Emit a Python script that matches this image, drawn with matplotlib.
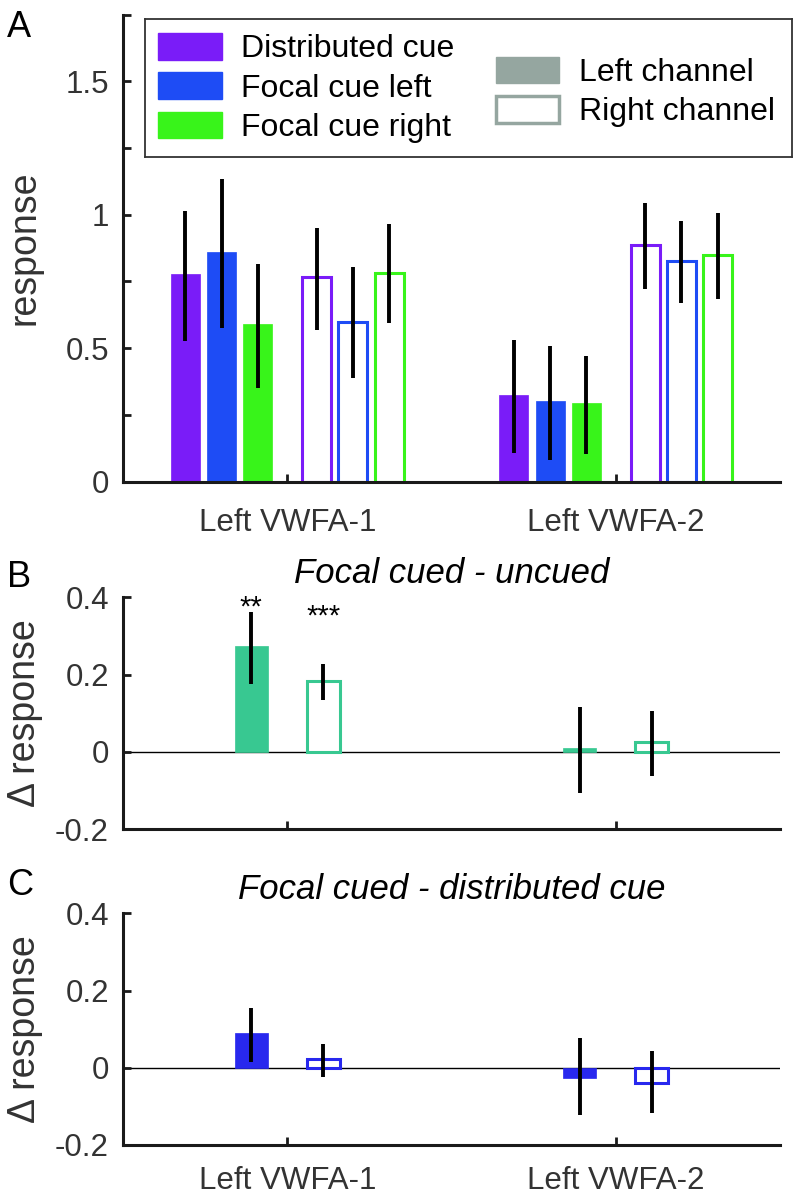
import numpy as np
import matplotlib
matplotlib.use("Agg")
import matplotlib.pyplot as plt
from matplotlib.patches import Patch

plt.rcParams['font.family'] = ['Liberation Sans', 'DejaVu Sans']

# Data
regions = ["Left VWFA-1", "Left VWFA-2"]
cue_labels = ["Distributed cue", "Focal cue left", "Focal cue right"]
cue_colors = ["#7A1CF8", "#1E4CF5", "#38F41A"]
channel_labels = ["Left channel", "Right channel"]

# panel A: rows = cue condition, cols = region
left_mean = [[0.777, 0.325], [0.860, 0.302], [0.590, 0.294]]
left_lo = [[0.527, 0.106], [0.574, 0.083], [0.352, 0.104]]
left_hi = [[1.013, 0.530], [1.134, 0.510], [0.816, 0.472]]
right_mean = [[0.766, 0.886], [0.600, 0.827], [0.781, 0.848]]
right_lo = [[0.570, 0.723], [0.390, 0.668], [0.593, 0.684]]
right_hi = [[0.952, 1.043], [0.806, 0.976], [0.965, 1.008]]

# panel B: focal cued - uncued
b_left_mean = [0.273, 0.009]
b_left_lo = [0.176, -0.105]
b_left_hi = [0.361, 0.117]
b_right_mean = [0.184, 0.025]
b_right_lo = [0.134, -0.062]
b_right_hi = [0.228, 0.106]
b_stars = ["**", "***"]

# panel C: focal cued - distributed cue
c_left_mean = [0.089, -0.026]
c_left_lo = [0.016, -0.123]
c_left_hi = [0.154, 0.078]
c_right_mean = [0.022, -0.039]
c_right_lo = [-0.024, -0.117]
c_right_hi = [0.062, 0.043]

W, H = 796, 1196
fig = plt.figure(figsize=(W / 100, H / 100), dpi=100)
tick_color = "#333333"
label_size = 22.5


def px_axes(x0, y0, x1, y1):
    return fig.add_axes([x0 / W, 1 - y1 / H, (x1 - x0) / W, (y1 - y0) / H])


def style_axes(ax):
    for s in ["top", "right"]:
        ax.spines[s].set_visible(False)
    for s in ["left", "bottom"]:
        ax.spines[s].set_linewidth(2.2)
        ax.spines[s].set_color("#1a1a1a")
    ax.tick_params(direction="in", length=6, width=2, colors="#1a1a1a",
                   labelcolor=tick_color, labelsize=label_size, pad=10)
    ax.set_xlim(0.5, 2.5)
    ax.set_xticks([1, 2])


def errbars(ax, x, mean, lo, hi):
    mean = np.asarray(mean)
    yerr = [mean - np.asarray(lo), np.asarray(hi) - mean]
    ax.errorbar(x, mean, yerr=yerr, fmt="none", ecolor="k",
                elinewidth=2.8, capsize=0, zorder=4)


x = np.arange(1, len(regions) + 1)

# ---------------- Panel A ----------------
axA = px_axes(123, 14.5, 780, 481.7)
style_axes(axA)
left_off = [-0.31, -0.2, -0.09]
right_off = [0.09, 0.2, 0.31]
wA = 0.088
for i, c in enumerate(cue_colors):
    axA.bar(x + left_off[i], left_mean[i], width=wA, color=c, edgecolor=c,
            linewidth=0.5, zorder=2)
    errbars(axA, x + left_off[i], left_mean[i], left_lo[i], left_hi[i])
    axA.bar(x + right_off[i], right_mean[i], width=wA, facecolor="white",
            edgecolor=c, linewidth=2.2, zorder=2)
    errbars(axA, x + right_off[i], right_mean[i], right_lo[i], right_hi[i])
axA.set_ylim(0, 1.75)
yt = np.arange(0, 1.76, 0.25)
axA.set_yticks(yt)
axA.set_yticklabels(["%g" % v if v in (0, 0.5, 1, 1.5) else "" for v in yt])
axA.set_xticklabels(regions)
axA.tick_params(axis="x", pad=19)
axA.set_ylabel("response", fontsize=27, color=tick_color)
axA.yaxis.set_label_coords(-0.122, 0.5)

# legend box
lax = px_axes(145, 19, 792, 157)
lax.set_xticks([])
lax.set_yticks([])
for s in lax.spines.values():
    s.set_linewidth(1.3)
    s.set_color("#333333")
cue_handles = [Patch(facecolor=c, edgecolor=c) for c in cue_colors]
leg1 = lax.legend(cue_handles, cue_labels, loc="center left",
                  bbox_to_anchor=(0, 0.5), frameon=False, fontsize=23,
                  handlelength=2.0, handleheight=0.9, handletextpad=0.6,
                  labelspacing=0.25, borderaxespad=0, borderpad=0.4)
lax.add_artist(leg1)
ch_handles = [Patch(facecolor="#95A6A0", edgecolor="#95A6A0"),
              Patch(facecolor="white", edgecolor="#95A6A0", linewidth=2.5)]
lax.legend(ch_handles, channel_labels, loc="center left",
           bbox_to_anchor=(0.522, 0.47), frameon=False, fontsize=23,
           handlelength=2.0, handleheight=0.9, handletextpad=0.6,
           labelspacing=0.25, borderaxespad=0, borderpad=0.4)


# ---------------- Panels B and C ----------------
def diff_panel(y0, y1, color, lm, llo, lhi, rm, rlo, rhi, title, labels):
    ax = px_axes(123, y0, 780, y1)
    style_axes(ax)
    ax.axhline(0, color="k", linewidth=1.0, zorder=1)
    off = 0.11
    wd = 0.1
    ax.bar(x - off, lm, width=wd, color=color, edgecolor=color,
           linewidth=0.5, zorder=2)
    ax.bar(x + off, rm, width=wd, facecolor="white", edgecolor=color,
           linewidth=2.2, zorder=2)
    errbars(ax, x - off, lm, llo, lhi)
    errbars(ax, x + off, rm, rlo, rhi)
    ax.set_ylim(-0.2, 0.4)
    ax.set_yticks([-0.2, 0, 0.2, 0.4])
    ax.set_yticklabels(["-0.2", "0", "0.2", "0.4"])
    if labels:
        ax.set_xticklabels(regions)
        ax.tick_params(axis="x", pad=15)
    else:
        ax.set_xticklabels([])
    ax.set_title(title, fontsize=25, style="italic", pad=10)
    ax.set_ylabel("\u0394 response", fontsize=27, color=tick_color)
    ax.yaxis.set_label_coords(-0.122, 0.5)
    return ax


axB = diff_panel(597.3, 829.3, "#38C891", b_left_mean, b_left_lo, b_left_hi,
                 b_right_mean, b_right_lo, b_right_hi,
                 "Focal cued - uncued", False)
star_y = [0.352, 0.330]
axB.text(x[0] - 0.11, star_y[0], b_stars[0], ha="center", va="baseline",
         fontsize=21)
axB.text(x[0] + 0.11, star_y[1], b_stars[1], ha="center", va="baseline",
         fontsize=21)

axC = diff_panel(913.3, 1145, "#2828EE", c_left_mean, c_left_lo, c_left_hi,
                 c_right_mean, c_right_lo, c_right_hi,
                 "Focal cued - distributed cue", True)

# panel letters
for letter, ybase in zip(["A", "B", "C"], [37, 587, 895]):
    fig.text(7 / W, 1 - ybase / H, letter, fontsize=26, va="baseline",
             ha="left")

fig.savefig("out.png", dpi=100)
